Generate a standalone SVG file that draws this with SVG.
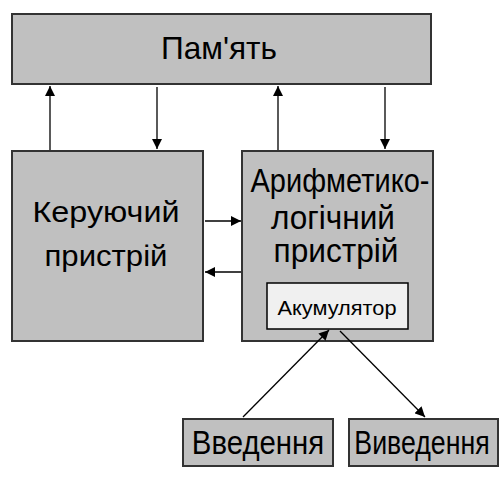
<svg xmlns="http://www.w3.org/2000/svg" width="504" height="480" viewBox="0 0 504 480">
<defs>
<marker id="ah" viewBox="0 0 10 10" refX="10" refY="5" markerWidth="10" markerHeight="10" markerUnits="userSpaceOnUse" orient="auto">
<path d="M0,0 L10,5 L0,10 Z" fill="#000"/>
</marker>
</defs>
<style>
.box{fill:#c0c0c0;stroke:#333;stroke-width:2}
.acc{fill:#f0f0f0;stroke:#000;stroke-width:1.5}
.t{font-family:"Liberation Sans",Arial,sans-serif;fill:#000;text-anchor:middle}
.c{stroke:#000;stroke-width:1.3;fill:none;marker-end:url(#ah)}
</style>
<rect width="504" height="480" fill="#fff"/>
<g id="memory">
<rect class="box" x="12" y="14" width="419" height="70"/>
<text class="t" x="219" y="59" font-size="32" textLength="116" lengthAdjust="spacingAndGlyphs">Пам'ять</text>
</g>
<g id="control">
<rect class="box" x="12" y="151" width="191" height="190"/>
<text class="t" x="106" y="222" font-size="29" textLength="147" lengthAdjust="spacingAndGlyphs">Керуючий</text>
<text class="t" x="106" y="266" font-size="29" textLength="123" lengthAdjust="spacingAndGlyphs">пристрій</text>
</g>
<g id="alu">
<rect class="box" x="242" y="151" width="191" height="190"/>
<text class="t" x="340" y="192" font-size="33" textLength="179" lengthAdjust="spacingAndGlyphs">Арифметико-</text>
<text class="t" x="333" y="229" font-size="33" textLength="124" lengthAdjust="spacingAndGlyphs">логічний</text>
<text class="t" x="336" y="262" font-size="33" textLength="125" lengthAdjust="spacingAndGlyphs">пристрій</text>
</g>
<g id="accumulator">
<rect class="acc" x="267" y="283" width="141" height="46"/>
<text class="t" x="337" y="315" font-size="20" textLength="119" lengthAdjust="spacingAndGlyphs">Акумулятор</text>
</g>
<g id="input">
<rect class="box" x="183" y="419" width="150" height="47"/>
<text class="t" transform="translate(258,454) scale(0.89,1)" x="0" y="0" font-size="33">Введення</text>
</g>
<g id="output">
<rect class="box" x="349" y="419" width="149" height="47"/>
<text class="t" transform="translate(422,454) scale(0.81,1)" x="0" y="0" font-size="33">Виведення</text>
</g>
<g id="connectors">
<line class="c" x1="50" y1="150" x2="50" y2="86"/>
<line class="c" x1="157" y1="87" x2="157" y2="149"/>
<line class="c" x1="278" y1="150" x2="278" y2="86"/>
<line class="c" x1="385" y1="87" x2="385" y2="149"/>
<line class="c" x1="205" y1="221" x2="241" y2="221"/>
<line class="c" x1="241" y1="272" x2="205" y2="272"/>
<line class="c" x1="243" y1="417" x2="329" y2="330"/>
<line class="c" x1="340" y1="331" x2="425" y2="417"/>
</g>
</svg>
